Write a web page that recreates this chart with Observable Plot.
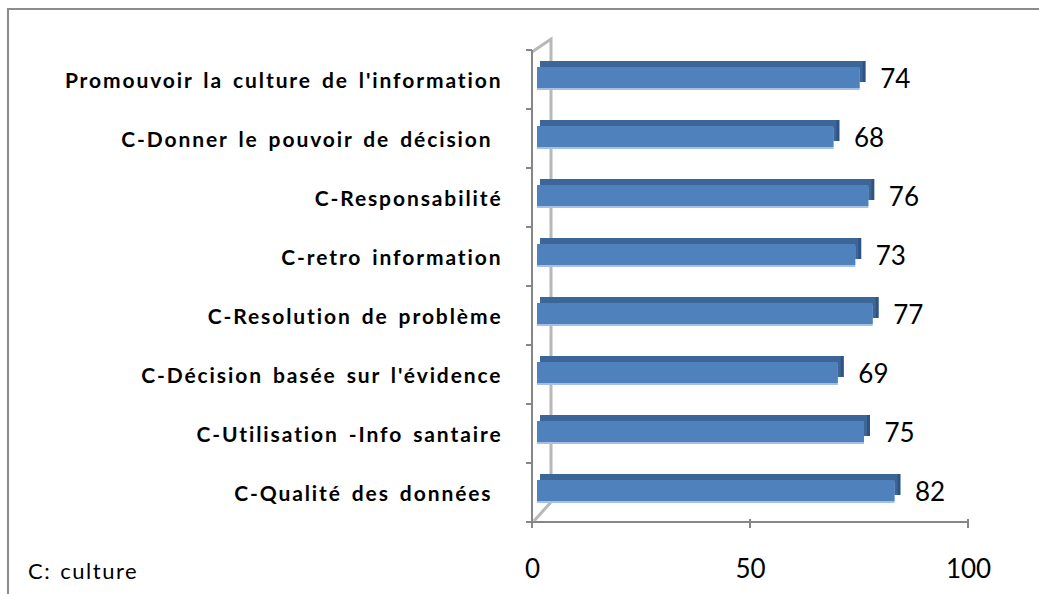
<!DOCTYPE html>
<html>
<head>
<meta charset="utf-8">
<script src="https://cdn.jsdelivr.net/npm/d3@7"></script>
<script src="https://cdn.jsdelivr.net/npm/@observablehq/plot@0.6"></script>
<style>
  html, body { margin: 0; padding: 0; background: #fff; overflow: hidden; }
  #wrap { position: relative; width: 1039px; height: 594px; overflow: hidden; }
  #frame { position: absolute; left: 7px; top: 8px; width: 1200px; height: 800px;
           border-top: 2px solid #8c8c8c; border-left: 2px solid #8c8c8c; pointer-events: none; }
  #chart { position: absolute; left: 0; top: 0; }
  #note { position: absolute; left: 28px; top: 557px; font-family: Lato, sans-serif; font-size: 22px;
          letter-spacing: 1.5px; word-spacing: 2px; color: #000; }
  g.catlabels text { letter-spacing: 1.9px; word-spacing: 3px; }
</style>
</head>
<body>
<div id="wrap">
  <div id="chart"></div>
  <div id="frame"></div>
  <div id="note">C: culture</div>
</div>
<script>
const categories = [
  "Promouvoir la culture de l'information",
  "C-Donner le pouvoir de décision\u00a0",
  "C-Responsabilité",
  "C-retro information",
  "C-Resolution de problème",
  "C-Décision basée sur l'évidence",
  "C-Utilisation -Info santaire",
  "C-Qualité des données\u00a0"
];
const values = [74, 68, 76, 73, 77, 69, 75, 82];
const xTicks = [0, 50, 100];

const data = categories.map((c, i) => ({category: c, value: values[i]}));

const axisColor = "#868686";

function decor(index, scales) {
  const x = scales.x, y = scales.y;
  const bw = y.bandwidth();
  const x0 = x(0), x100 = x(100);
  const top = y(categories[0]);
  const bottom = y(categories[categories.length - 1]) + bw;
  const g = d3.create("svg:g");
  // back wall (3D)
  const wx = x0 + 19;
  g.append("path")
    .attr("d", `M${x0},${top + 2}L${wx},${top - 11}L${wx},${bottom - 20}L${x0 + 2},${bottom - 1}`)
    .attr("fill", "none").attr("stroke", "#b8b8b8").attr("stroke-width", 3);
  // y axis line
  g.append("line").attr("x1", x0).attr("x2", x0).attr("y1", top).attr("y2", bottom)
    .attr("stroke", axisColor).attr("stroke-width", 2);
  // category boundary ticks
  for (let i = 0; i <= categories.length; i++) {
    const yy = top + i * bw;
    g.append("line").attr("x1", x0 - 6).attr("x2", x0).attr("y1", yy).attr("y2", yy)
      .attr("stroke", axisColor).attr("stroke-width", 2);
  }
  // x axis line and ticks
  g.append("line").attr("x1", x0 - 1).attr("x2", x100 + 1).attr("y1", bottom).attr("y2", bottom)
    .attr("stroke", axisColor).attr("stroke-width", 2);
  for (const t of xTicks) {
    g.append("line").attr("x1", x(t)).attr("x2", x(t)).attr("y1", bottom - 3).attr("y2", bottom + 6)
      .attr("stroke", axisColor).attr("stroke-width", 2);
  }
  return g.node();
}

const chart = Plot.plot({
  width: 1039,
  height: 594,
  marginLeft: 532,
  marginRight: 71,
  marginTop: 46,
  marginBottom: 69,
  style: {background: "transparent", fontFamily: "Lato, sans-serif", overflow: "visible"},
  x: {domain: [0, 100], ticks: xTicks, tickSize: 0, tickPadding: 34, tickFormat: d => d, label: null},
  y: {domain: categories, padding: 0, axis: null, label: null},
  marks: [
    decor,
    // side face (darkest)
    Plot.barX(data, {x1: 0, x2: "value", y: "category", fill: "#2f5483", insetTop: 17, insetBottom: 21, dx: 11, dy: -6}),
    // top face
    Plot.barX(data, {x1: 0, x2: "value", y: "category", fill: "#3d6698", insetTop: 17, insetBottom: 21, dx: 8, dy: -6}),
    // lower light edge
    Plot.barX(data, {x1: 0, x2: "value", y: "category", fill: "#a7bfe2", insetTop: 17, insetBottom: 21, dx: 5, dy: 2}),
    // front face
    Plot.barX(data, {x1: 0, x2: "value", y: "category", fill: "#4f81bd", insetTop: 17, insetBottom: 21, dx: 5}),
    Plot.text(data, {x: "value", y: "category", text: d => String(d.value), textAnchor: "start", dx: 25, dy: 0, fontSize: 26, fill: "#000"}),
    Plot.text(data, {x: 0, y: "category", text: "category", textAnchor: "end", dx: -30, dy: 1, fontSize: 21, fontWeight: "bold", fill: "#000"})
  ]
});
chart.querySelectorAll("g[aria-label='x-axis tick label'] text, g[aria-label='x-axis'] text").forEach(t => {
  t.setAttribute("font-size", "26");
  t.style.fontSize = "26px";
  t.setAttribute("fill", "#000");
});
chart.querySelectorAll("g[font-weight='bold']").forEach(g => g.classList.add("catlabels"));
document.getElementById("chart").appendChild(chart);
</script>
</body>
</html>
